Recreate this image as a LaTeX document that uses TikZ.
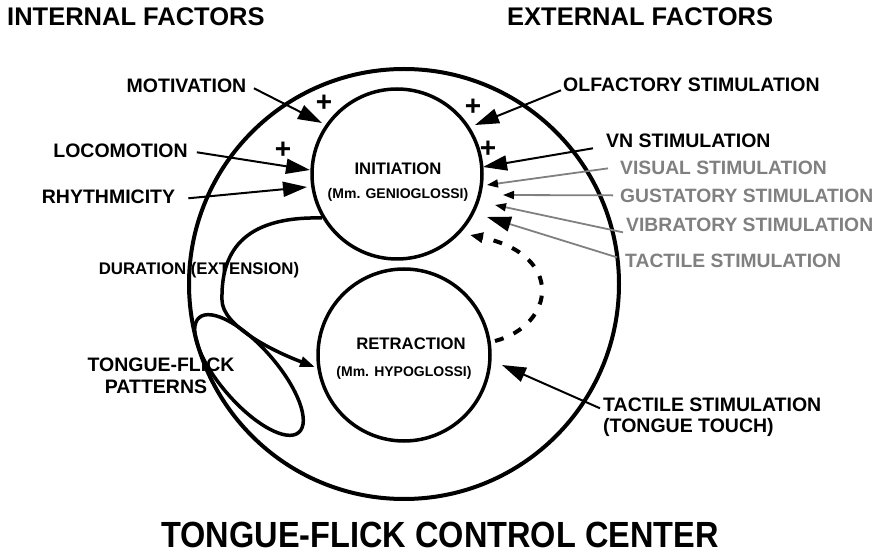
\documentclass[tikz,border=0pt]{standalone}
\usepackage{fontspec}
\setmainfont{Liberation Sans}
\usetikzlibrary{arrows.meta,shapes.geometric}
\definecolor{lgray}{HTML}{808080}
\begin{document}
\begin{tikzpicture}[x=1pt,y=-1pt,
  lab/.style={inner sep=0pt, font=\bfseries\fontsize{19.5}{22}\selectfont, anchor=base},
  labw/.style={lab, anchor=base west},
  glab/.style={inner sep=0pt, font=\bfseries\fontsize{19.3}{22}\selectfont, text=lgray, anchor=base west},
  head/.style={inner sep=0pt, font=\bfseries\fontsize{25.5}{28}\selectfont, anchor=base west},
  intext/.style={inner sep=0pt, font=\bfseries\fontsize{16.7}{18}\selectfont, anchor=base},
  insub/.style={inner sep=0pt, font=\bfseries\fontsize{14}{16}\selectfont, anchor=base},
  plus/.style={inner sep=0pt, font=\bfseries\fontsize{28}{30}\selectfont},
  ring/.style={circle, draw, line width=3.5pt, inner sep=0pt},
  bigarr/.style={line width=2pt, -{Triangle[length=24pt,width=15pt]}},
  smallarr/.style={line width=1.8pt, draw=lgray, -{Triangle[length=11pt,width=8pt,color=black]}},
  gbigarr/.style={line width=1.8pt, draw=lgray, -{Triangle[length=24pt,width=15pt,color=black]}},
]
\useasboundingbox (0,0) rectangle (887,553);

% headings
\node[head] (intf) at (7,26) {INTERNAL FACTORS};
\node[head] (extf) at (507,26) {EXTERNAL FACTORS};
\node[inner sep=0pt, font=\bfseries\fontsize{32.5}{36}\selectfont, anchor=base] (title) at (440,547) {\scalebox{1}[1.12]{TONGUE-FLICK CONTROL CENTER}};

% circles
\node[circle, draw, line width=4pt, inner sep=0pt, minimum size=430pt] (center) at (404,284) {};
\node[ring, minimum size=170pt] (init) at (397,174) {};
\node[ring, minimum size=172pt] (retr) at (404,355) {};
\node[ellipse, draw, line width=3.5pt, inner sep=0pt, minimum width=152pt, minimum height=57pt, rotate=-49] (pat) at (249,375) {};

% texts in circles
\node[intext] (initT) at (398,174.5) {INITIATION};
\node[insub] (initS) at (398,198.5) {(Mm. GENIOGLOSSI)};
\node[intext] (retrT) at (411,350) {RETRACTION};
\node[insub] (retrS) at (404,377) {(Mm. HYPOGLOSSI)};

% internal factors
\node[lab] (mot) at (186.5,93) {MOTIVATION};
\node[lab] (loc) at (120.5,157.5) {LOCOMOTION};
\node[lab] (rhy) at (108.5,204) {RHYTHMICITY};
\node[inner sep=0pt, font=\bfseries\fontsize{16.8}{18}\selectfont, anchor=base] (dur) at (199,275) {DURATION (EXTENSION)};
\node[lab] (tfp1) at (161,372) {TONGUE-FLICK};
\node[lab] (tfp2) at (156,394) {PATTERNS};

% external factors
\node[labw] (olf) at (563,92) {OLFACTORY STIMULATION};
\node[labw] (vn) at (606,147.5) {VN STIMULATION};
\node[glab] (vis) at (620,175) {VISUAL STIMULATION};
\node[glab] (gus) at (620,203) {GUSTATORY STIMULATION};
\node[glab] (vib) at (626,232) {VIBRATORY STIMULATION};
\node[glab] (tac) at (625,268) {TACTILE STIMULATION};
\node[labw] (tt1) at (603,412) {TACTILE STIMULATION};
\node[labw] (tt2) at (603,433) {(TONGUE TOUCH)};

% plus signs
\node[plus] (p1) at (324,103) {+};
\node[plus] (p2) at (283,150) {+};
\node[plus] (p3) at (473,107) {+};
\node[plus] (p4) at (488,149) {+};

% arrow tips
\coordinate (tMot) at (322,123);
\coordinate (tLoc) at (310,170);
\coordinate (tRhy) at (307,187);
\coordinate (tOlf) at (475,125);
\coordinate (tVn) at (483,167);
\coordinate (tVis) at (487,185);
\coordinate (tGus) at (503,195);
\coordinate (tVib) at (495,205);
\coordinate (tTac) at (487,217);
\coordinate (tTT) at (502,365);
\coordinate (tDash) at (470,235);
\coordinate (sDash) at (495,341);
\coordinate (sDur) at (322,218);
\coordinate (tDur) at (315,367);

% internal arrows
\draw[bigarr] ([shift={(7.5,2)}]mot.east) -- (tMot);
\draw[bigarr] ([shift={(9,1.5)}]loc.east) -- (tLoc);
\draw[bigarr] ([shift={(13,1)}]rhy.east) -- (tRhy);

% external arrows
\draw[bigarr] ([shift={(-2,5)}]olf.west) -- (tOlf);
\draw[bigarr] ([shift={(-13,7.5)}]vn.west) -- (tVn);
\draw[smallarr] ([shift={(-12,0)}]vis.west) -- (tVis);
\draw[smallarr] ([shift={(-7,-1)}]gus.west) -- (tGus);
\draw[smallarr] ([shift={(-3,7)}]vib.west) -- (tVib);
\draw[gbigarr] ([shift={(-8,-4)}]tac.west) -- (tTac);
\draw[bigarr] ([shift={(-3,3)}]tt1.west) -- (tTT);

% duration curve
\draw[line width=3.5pt, -{Triangle[length=15pt,width=10pt]}]
  (sDur) .. controls (240,216) and (221,255) .. (222,300)
         .. controls (222,325) and (270,350) .. (tDur);

% dashed feedback
\draw[line width=4pt, dash pattern=on 9pt off 11pt, -{Triangle[length=13pt,width=10pt]}]
  (sDash) .. controls (555,325) and (565,255) .. (tDash);
\end{tikzpicture}
\end{document}
